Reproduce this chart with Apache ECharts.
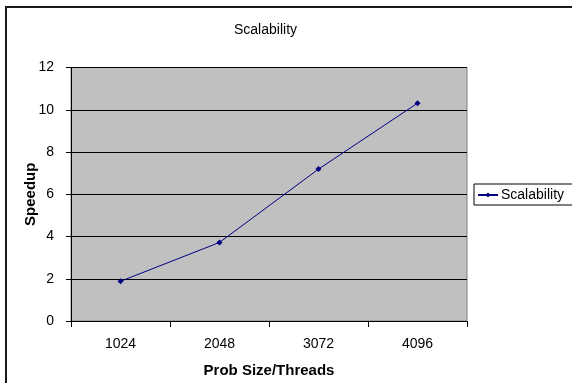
<!DOCTYPE html>
<html>
<head>
<meta charset="utf-8">
<script src="https://cdn.jsdelivr.net/npm/echarts@6/dist/echarts.min.js"></script>
<style>
  html, body { margin: 0; padding: 0; background: #fff; }
  #chart { width: 572px; height: 383px; }
</style>
</head>
<body>
<div id="chart"></div>
<script>
// Problem sizes per thread (x categories) and measured speedup
const categories = ['1024', '2048', '3072', '4096'];
const speedup = [1.88, 3.72, 7.19, 10.31];
const yTicks = { min: 0, max: 12, interval: 2 };

const FONT = '"Liberation Sans", Arial, sans-serif';

const chart = echarts.init(document.getElementById('chart'), null, { renderer: 'canvas' });

chart.setOption({
  backgroundColor: '#ffffff',
  animation: false,
  title: {
    text: 'Scalability',
    left: 234,
    top: 23,
    padding: 0,
    textStyle: { fontFamily: FONT, fontSize: 14, fontWeight: 'normal', color: '#000' }
  },
  graphic: [{
    type: 'rect',
    z: -10,
    shape: { x: 6, y: 7, width: 620, height: 420 },
    style: { fill: 'none', stroke: '#1a1a1a', lineWidth: 2 }
  }],
  legend: {
    left: 474,
    top: 184,
    orient: 'vertical',
    borderColor: '#000',
    borderWidth: 1,
    padding: [4, 12, 3, 3],
    itemWidth: 20,
    itemHeight: 6,
    textStyle: { fontFamily: FONT, fontSize: 14, color: '#000', padding: [0, 0, 0, -2] },
    data: ['Scalability']
  },
  grid: {
    left: 71,
    right: 105,
    top: 67.5,
    bottom: 61.5,
    show: true,
    backgroundColor: '#C0C0C0',
    borderColor: '#808080',
    borderWidth: 1
  },
  xAxis: {
    type: 'category',
    data: categories,
    boundaryGap: true,
    name: 'Prob Size/Threads',
    nameLocation: 'middle',
    nameGap: 42,
    nameMoveOverlap: false,
    nameTextStyle: { fontFamily: FONT, fontSize: 15, fontWeight: 'bold', color: '#000' },
    axisLine: { show: true, lineStyle: { color: '#000', width: 1 } },
    axisTick: { show: true, inside: false, length: 6, interval: 0, lineStyle: { color: '#000' } },
    axisLabel: { fontFamily: FONT, fontSize: 14, color: '#000', margin: 16 },
    splitLine: { show: false }
  },
  yAxis: {
    type: 'value',
    min: yTicks.min,
    max: yTicks.max,
    interval: yTicks.interval,
    name: 'Speedup',
    nameLocation: 'middle',
    nameGap: 33,
    nameMoveOverlap: false,
    nameTextStyle: { fontFamily: FONT, fontSize: 15, fontWeight: 'bold', color: '#000' },
    axisLine: { show: true, lineStyle: { color: '#000', width: 1 } },
    axisTick: { show: true, inside: false, length: 5, lineStyle: { color: '#000' } },
    axisLabel: { fontFamily: FONT, fontSize: 14, color: '#000', margin: 17 },
    splitLine: { show: true, lineStyle: { color: '#000', width: 1 } }
  },
  series: [{
    name: 'Scalability',
    type: 'line',
    data: speedup,
    symbol: 'diamond',
    symbolSize: 6,
    showAllSymbol: true,
    lineStyle: { color: '#000080', width: 1 },
    itemStyle: { color: '#000080', borderWidth: 0 }
  }]
});
</script>
</body>
</html>
